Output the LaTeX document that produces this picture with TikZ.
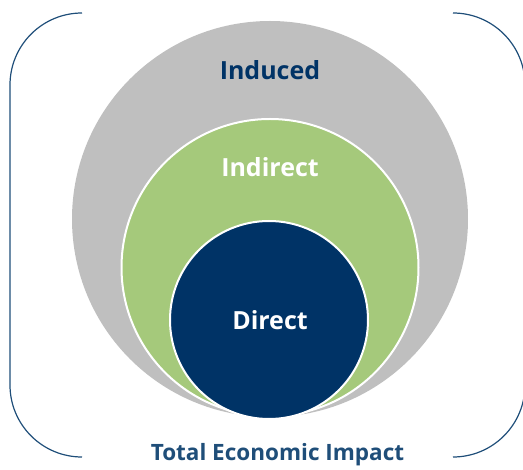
\documentclass[tikz,border=0pt]{standalone}
\usepackage{fontspec}
\setmainfont{Open Sans}
\definecolor{impgray}{HTML}{BFBFBF}
\definecolor{impgreen}{HTML}{A5C97B}
\definecolor{impnavy}{HTML}{003366}
\definecolor{impblue}{HTML}{1F4E79}
\tikzset{
  ring/.style={circle, inner sep=0pt, draw=white, line width=2pt},
  ringtext/.style={font=\fontsize{25}{30}\selectfont\bfseries},
  brace/.style={draw=impblue, line width=1.2pt}
}

\begin{document}
\begin{tikzpicture}[x=1pt, y=-1pt]
      \useasboundingbox (0,0) rectangle (523,470);
      \clip (0,0) rectangle (523,470);

      % nested circles, all touching at the bottom
      \node[ring, fill=impgray, draw=none, minimum size=396pt] (induced) at (270,219) {};
      \node[ring, fill=impgreen, minimum size=297pt] (indirect) at (270,267.5) {};
      \node[ring, fill=impnavy, minimum size=198pt] (direct) at (269,320) {};

      \node[ringtext, text=impnavy] (inducedtxt) at (270,70) {Induced};
      \node[ringtext, text=white] (indirecttxt) at (270,167) {Indirect};
      \node[ringtext, text=white] (directtxt) at (270,320) {Direct};

      % brackets (y axis points down, so angles are flipped)
      \draw[brace] (82,13) arc (-90:-180:72) -- (10,385) arc (180:90:72);
      \draw[brace] (453,13) arc (-90:0:72) -- (525,385) arc (0:90:72);

      \node[font=\fontsize{22.5}{27}\selectfont\bfseries, text=impblue] (total) at (277.5,455) {Total Economic Impact};
    \end{tikzpicture}
\end{document}
